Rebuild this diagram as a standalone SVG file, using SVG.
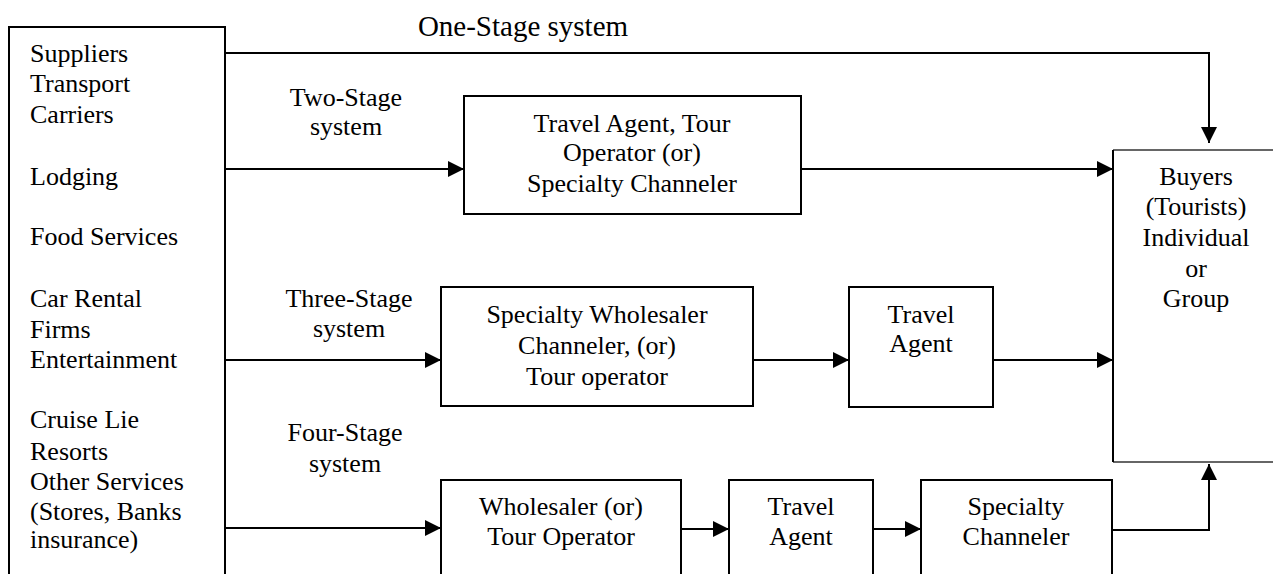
<svg xmlns="http://www.w3.org/2000/svg" width="1273" height="574" viewBox="0 0 1273 574">
  <style>
    text { font-family: "Liberation Serif", Tinos, "Times New Roman", Times, "DejaVu Serif", serif; font-size: 26px; fill: #000; }
    .c { text-anchor: middle; }
    .box { fill: #fff; stroke: #000; stroke-width: 2; }
    .edge { fill: none; stroke: #000; stroke-width: 2; }
    .wire { fill: none; stroke: #000; stroke-width: 2; marker-end: url(#arrow); }
  </style>
  <defs>
    <marker id="arrow" markerUnits="userSpaceOnUse" markerWidth="16" markerHeight="16" refX="16" refY="8" orient="auto">
      <path d="M0,0 L16,8 L0,16 z" fill="#000"/>
    </marker>
  </defs>
  <rect width="1273" height="574" fill="#fff"/>

  <g font-family="Liberation Serif, Times New Roman, serif">
  <!-- Suppliers (open at the bottom) -->
  <g id="suppliers">
    <path class="edge" d="M9,574 V27 H225 V574"/>
    <text x="30" y="62">Suppliers</text>
    <text x="30" y="92">Transport</text>
    <text x="30" y="123">Carriers</text>
    <text x="30" y="185">Lodging</text>
    <text x="30" y="245">Food Services</text>
    <text x="30" y="307">Car Rental</text>
    <text x="30" y="338">Firms</text>
    <text x="30" y="368">Entertainment</text>
    <text x="30" y="428">Cruise Lie</text>
    <text x="30" y="460">Resorts</text>
    <text x="30" y="490">Other Services</text>
    <text x="30" y="520">(Stores, Banks</text>
    <text x="30" y="548">insurance)</text>
  </g>

  <!-- Buyers (open at the right) -->
  <g id="buyers">
    <path d="M1273,150 H1113 M1113,462 H1273" fill="none" stroke="#666" stroke-width="2"/>
    <path class="edge" d="M1113,150 V462"/>
    <text class="c" x="1196" y="185">Buyers</text>
    <text class="c" x="1196" y="215">(Tourists)</text>
    <text class="c" x="1196" y="246">Individual</text>
    <text class="c" x="1196" y="277">or</text>
    <text class="c" x="1196" y="307">Group</text>
  </g>

  <!-- Stage labels -->
  <g id="label-one">
    <text class="c" x="523" y="36" style="font-size:29px">One-Stage system</text>
  </g>
  <g id="label-two">
    <text class="c" x="346" y="106">Two-Stage</text>
    <text class="c" x="346" y="135">system</text>
  </g>
  <g id="label-three">
    <text class="c" x="349" y="307">Three-Stage</text>
    <text class="c" x="349" y="337">system</text>
  </g>
  <g id="label-four">
    <text class="c" x="345" y="441">Four-Stage</text>
    <text class="c" x="345" y="472">system</text>
  </g>

  <!-- Two-stage intermediary -->
  <g id="two-agent">
    <rect class="box" x="464" y="96" width="337" height="118"/>
    <text class="c" x="632" y="132">Travel Agent, Tour</text>
    <text class="c" x="632" y="161">Operator (or)</text>
    <text class="c" x="632" y="192">Specialty Channeler</text>
  </g>

  <!-- Three-stage intermediaries -->
  <g id="three-wholesaler">
    <rect class="box" x="441" y="287" width="312" height="119"/>
    <text class="c" x="597" y="323">Specialty Wholesaler</text>
    <text class="c" x="597" y="354">Channeler, (or)</text>
    <text class="c" x="597" y="385">Tour operator</text>
  </g>
  <g id="three-agent">
    <rect class="box" x="849" y="287" width="144" height="120"/>
    <text class="c" x="921" y="323">Travel</text>
    <text class="c" x="921" y="352">Agent</text>
  </g>

  <!-- Four-stage intermediaries (open at the bottom) -->
  <g id="four-wholesaler">
    <path class="box" d="M441,580 V480 H681 V580"/>
    <text class="c" x="561" y="515">Wholesaler (or)</text>
    <text class="c" x="561" y="545">Tour Operator</text>
  </g>
  <g id="four-agent">
    <path class="box" d="M729,580 V480 H873 V580"/>
    <text class="c" x="801" y="515">Travel</text>
    <text class="c" x="801" y="545">Agent</text>
  </g>
  <g id="four-channeler">
    <path class="box" d="M921,580 V480 H1112 V580"/>
    <text class="c" x="1016" y="515">Specialty</text>
    <text class="c" x="1016" y="545">Channeler</text>
  </g>
  </g>

  <!-- Distribution flows -->
  <g id="connectors">
    <path class="wire" d="M225,53 H1209 V143"/>
    <path class="wire" d="M225,169 H464"/>
    <path class="wire" d="M801,169 H1113"/>
    <path class="wire" d="M225,360 H441"/>
    <path class="wire" d="M753,360 H849"/>
    <path class="wire" d="M993,360 H1113"/>
    <path class="wire" d="M225,528 H441"/>
    <path class="wire" d="M681,529 H729"/>
    <path class="wire" d="M873,529 H921"/>
    <path class="wire" d="M1112,530 H1209 V464"/>
  </g>
</svg>
